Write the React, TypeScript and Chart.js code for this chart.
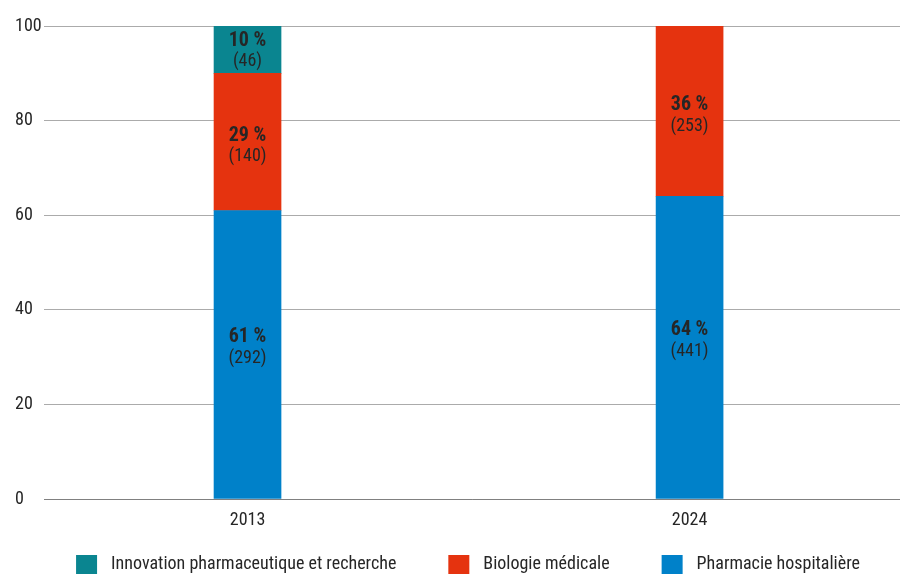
import { useEffect, useRef } from 'react';
import { Chart, registerables } from 'chart.js';

Chart.register(...registerables);

const categories = ['2013', '2024'];
const seriesNames = ['Pharmacie hospitalière', 'Biologie médicale', 'Innovation pharmaceutique et recherche'];
const pharmaciePct = [61, 64];
const biologiePct = [29, 36];
const innovationPct = [10, 0];
const pharmacieCount = [292, 441];
const biologieCount = [140, 253];
const innovationCount = [46, 0];
const seriesColors = ['#0081c9', '#e5330f', '#0a8590'];
const yTickValues = [0, 20, 40, 60, 80, 100];

const FONT = "'Roboto Condensed', 'Liberation Sans Narrow', 'DejaVu Sans Condensed', Roboto, sans-serif";
const TEXT = '#262626';

const seriesPct = [pharmaciePct, biologiePct, innovationPct];
const seriesCount = [pharmacieCount, biologieCount, innovationCount];
const labelShift = [-8, 3, 0];

const barLabels = {
  id: 'barLabels',
  afterDatasetsDraw(chart: any) {
    const ctx = chart.ctx;
    ctx.save();
    ctx.textAlign = 'center';
    ctx.textBaseline = 'middle';
    ctx.fillStyle = TEXT;
    chart.data.datasets.forEach((ds: any, i: number) => {
      const meta = chart.getDatasetMeta(i);
      meta.data.forEach((el: any, j: number) => {
        const v = seriesPct[i][j];
        if (!v) return;
        const mid = (el.y + el.base) / 2 + labelShift[i];
        ctx.font = `bold 20px ${FONT}`;
        ctx.fillText(`${v} %`, el.x, mid - 9);
        ctx.font = `18px ${FONT}`;
        ctx.fillText(`(${seriesCount[i][j]})`, el.x, mid + 12);
      });
    });
    ctx.restore();
  },
};

const customLegend = {
  id: 'customLegend',
  afterDraw(chart: any) {
    const ctx = chart.ctx;
    const area = chart.chartArea;
    ctx.save();
    ctx.font = `18px ${FONT}`;
    const items = chart.data.datasets
      .map((ds: any) => ({ label: ds.label, color: ds.backgroundColor }))
      .reverse();
    const box = 21;
    const boxGap = 14;
    const itemGap = 52;
    const widths = items.map((it: any) => box + boxGap + ctx.measureText(it.label).width);
    const total = widths.reduce((a: number, b: number) => a + b, 0) + itemGap * (items.length - 1);
    let x = (area.left + area.right) / 2 - 4 - total / 2;
    const top = 555;
    ctx.textBaseline = 'middle';
    ctx.textAlign = 'left';
    items.forEach((it: any, k: number) => {
      ctx.fillStyle = it.color;
      ctx.fillRect(x, top, box, box);
      ctx.fillStyle = TEXT;
      ctx.fillText(it.label, x + box + boxGap, top + 9);
      x += widths[k] + itemGap;
    });
    ctx.restore();
  },
};

export default function App() {
  const ref = useRef<HTMLCanvasElement | null>(null);
  useEffect(() => {
    document.body.style.margin = '0';
    if (!ref.current) return;
    Chart.defaults.font.family = FONT;
    const chart = new Chart(ref.current, {
      type: 'bar',
      data: {
        datasets: seriesNames.map((name, i) => ({
          label: name,
          data: categories.map((_, j) => ({ x: j, y: seriesPct[i][j] })),
          backgroundColor: seriesColors[i],
          borderWidth: 0,
          barThickness: 67,
        })),
      },
      options: {
        animation: false,
        responsive: false,
        devicePixelRatio: 1,
        layout: { padding: { left: 15, right: 0, top: 26, bottom: 35 } },
        plugins: { legend: { display: false }, tooltip: { enabled: false } },
        scales: {
          x: {
            type: 'linear',
            stacked: true,
            offset: false,
            min: -0.4604,
            max: 1.476,
            grid: { display: false, offset: false },
            border: { display: true, color: '#808080', width: 1 },
            afterBuildTicks: (axis: any) => {
              axis.ticks = categories.map((_, i) => ({ value: i }));
            },
            afterFit: (axis: any) => {
              axis.height = 40;
            },
            ticks: {
              padding: 3,
              color: TEXT,
              font: { size: 18 },
              callback: (v: any) => categories[v] ?? '',
            },
          },
          y: {
            stacked: true,
            min: 0,
            max: 100,
            afterBuildTicks: (axis: any) => {
              axis.ticks = yTickValues.map((v) => ({ value: v }));
            },
            afterFit: (axis: any) => {
              axis.width = 29;
            },
            grid: { color: '#ababab', drawTicks: false },
            border: { display: false },
            ticks: {
              crossAlign: 'far',
              padding: 4,
              color: TEXT,
              font: { size: 18 },
            },
          },
        },
      },
      plugins: [barLabels, customLegend],
    });
    return () => chart.destroy();
  }, []);
  return (
    <div style={{ width: 900, height: 574 }}>
      <canvas ref={ref} width={900} height={574} style={{ display: 'block' }} />
    </div>
  );
}
